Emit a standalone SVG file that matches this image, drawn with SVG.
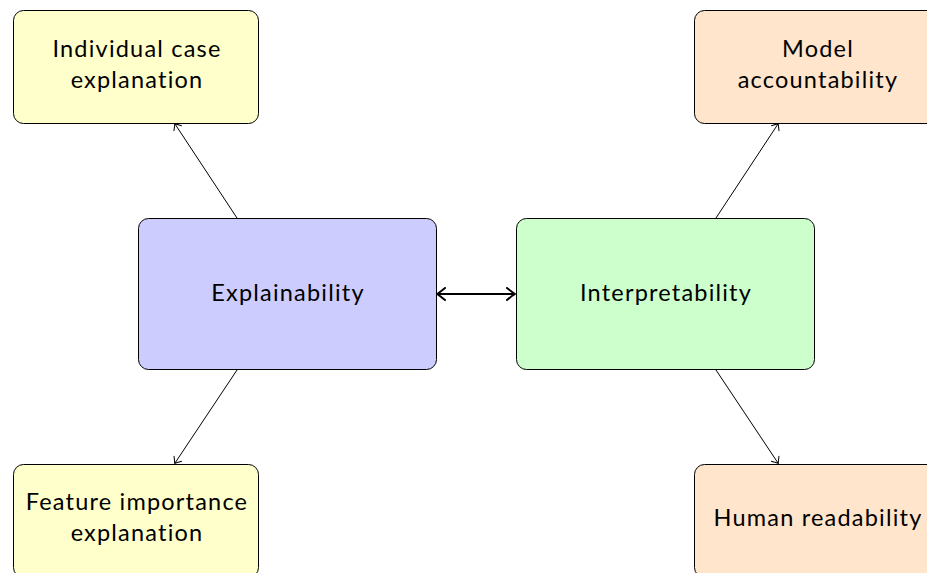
<svg xmlns="http://www.w3.org/2000/svg" width="927" height="573" viewBox="0 0 927 573">
  <defs>
    <style>
      .box { stroke: #000; stroke-width: 1; }
      .yellow { fill: #FFFFCC; }
      .blue { fill: #CCCCFF; }
      .green { fill: #CCFFCC; }
      .peach { fill: #FFE5CC; }
      .label { font-family: "Lato", "Open Sans", "Liberation Sans", sans-serif; font-size: 23.5px; letter-spacing: 1.2px; fill: #000; text-anchor: middle; }
      .edge { stroke: #000; stroke-width: 1; fill: none; }
      .link { stroke: #000; stroke-width: 2; fill: none; }
    </style>
    <marker id="tip" viewBox="-6 -6 8 12" markerWidth="8" markerHeight="12" refX="0" refY="0" orient="auto-start-reverse" markerUnits="userSpaceOnUse">
      <path d="M -5 -4.5 Q -1 -1 0.5 0 Q -1 1 -5 4.5" fill="none" stroke="#000" stroke-width="1" stroke-linecap="round"/>
    </marker>
    <marker id="tipBold" viewBox="-9 -8 11 16" markerWidth="11" markerHeight="16" refX="0" refY="0" orient="auto-start-reverse" markerUnits="userSpaceOnUse">
      <path d="M -7 -6 Q -1.5 -1.5 0.8 0 Q -1.5 1.5 -7 6" fill="none" stroke="#000" stroke-width="2" stroke-linecap="round"/>
    </marker>
  </defs>

  <g id="connectors">
    <line class="edge" x1="237" y1="218" x2="175" y2="124" marker-end="url(#tip)"/>
    <line class="edge" x1="237" y1="370" x2="175" y2="463" marker-end="url(#tip)"/>
    <line class="edge" x1="716" y1="218" x2="778" y2="124" marker-end="url(#tip)"/>
    <line class="edge" x1="716" y1="370" x2="778" y2="463" marker-end="url(#tip)"/>
    <line class="link" x1="438" y1="294" x2="514" y2="294" marker-start="url(#tipBold)" marker-end="url(#tipBold)"/>
  </g>

  <g id="individual-case">
    <rect class="box yellow" x="13.5" y="10.5" width="245" height="113" rx="10"/>
    <text class="label" x="137" y="57">Individual case</text>
    <text class="label" x="137" y="88">explanation</text>
  </g>

  <g id="feature-importance">
    <rect class="box yellow" x="13.5" y="464.5" width="245" height="113" rx="10"/>
    <text class="label" x="137" y="510">Feature importance</text>
    <text class="label" x="137" y="541">explanation</text>
  </g>

  <g id="explainability">
    <rect class="box blue" x="138.5" y="218.5" width="298" height="151" rx="10"/>
    <text class="label" x="288" y="301">Explainability</text>
  </g>

  <g id="interpretability">
    <rect class="box green" x="516.5" y="218.5" width="298" height="151" rx="10"/>
    <text class="label" x="666" y="301">Interpretability</text>
  </g>

  <g id="model-accountability">
    <rect class="box peach" x="694.5" y="10.5" width="245" height="113" rx="10"/>
    <text class="label" x="818" y="57">Model</text>
    <text class="label" x="818" y="88">accountability</text>
  </g>

  <g id="human-readability">
    <rect class="box peach" x="694.5" y="464.5" width="245" height="113" rx="10"/>
    <text class="label" x="818" y="526">Human readability</text>
  </g>
</svg>
